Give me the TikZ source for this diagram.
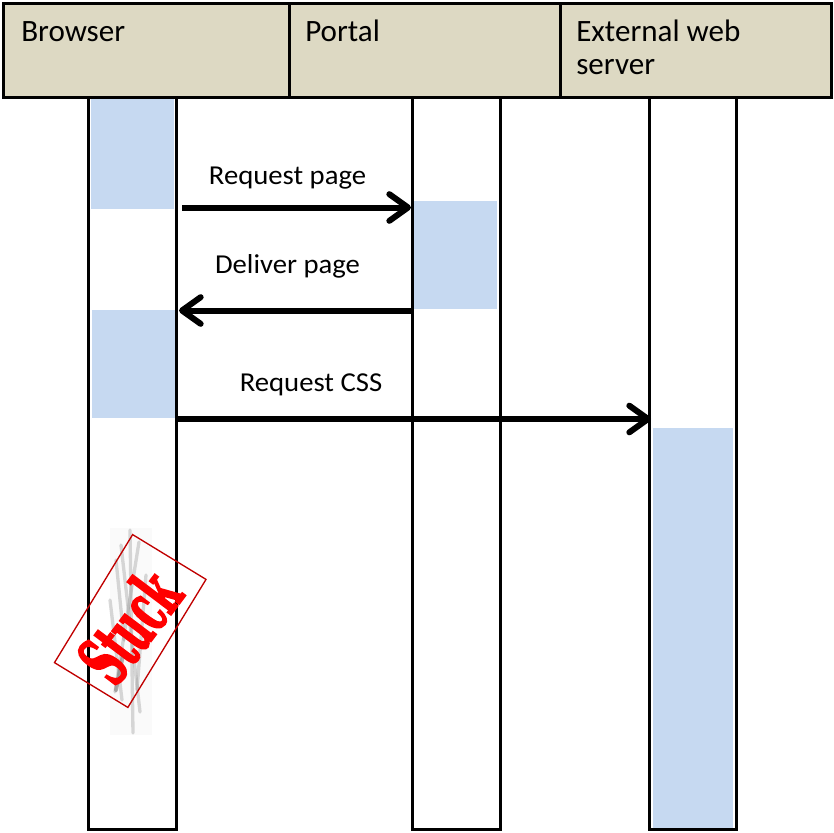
\documentclass[tikz,border=0pt]{standalone}
\usepackage{fontspec}
\setmainfont{Carlito}
\newfontfamily\hdrfont{Carlito}
\newfontfamily\lblfont[FakeStretch=1.05]{Carlito}
\newfontfamily\stuckfont[FakeStretch=0.5,FakeBold=2.2]{DejaVu Serif}
\usetikzlibrary{arrows.meta}
\definecolor{hdrfill}{HTML}{DDD9C3}
\definecolor{actblue}{HTML}{C6D9F1}
\definecolor{stampred}{HTML}{C00000}
\begin{document}
\begin{tikzpicture}[x=0.75pt,y=-0.75pt,
  hdrbox/.style={draw=black,line width=2.25pt,fill=hdrfill},
  lifebox/.style={draw=black,line width=2.25pt},
  actbox/.style={fill=actblue,draw=none},
  msgarrow/.style={line width=4.5pt,-{Straight Barb[length=14pt,width=20pt,round]}},
  msglbl/.style={font=\lblfont\fontsize{20.5}{23}\selectfont,anchor=base,inner sep=0pt},
  hdrlbl/.style={font=\hdrfont\fontsize{23.3}{24.75}\selectfont,anchor=base west,inner sep=0pt,align=left},
  streak/.style={draw=gray,line width=2.5pt,opacity=0.3,line cap=round}]
\useasboundingbox (0,0) rectangle (834,832);

% activation bars
\fill[actbox] (91,98) rectangle (174,209);
\fill[actbox] (413,201) rectangle (497,309);
\fill[actbox] (92,310) rectangle (175,418);
\fill[actbox] (653,428) rectangle (733,829);

% lifelines
\draw[lifebox] (88.5,97) rectangle (176.5,829.5);
\draw[lifebox] (412,97) rectangle (500.5,829.5);
\draw[lifebox] (649.5,97) rectangle (736.5,829.5);

% header
\draw[hdrbox] (3.5,3.5) rectangle (831.5,97);
\draw[line width=2.25pt] (289,3.5) -- (289,97);
\draw[line width=2.25pt] (560,3.5) -- (560,97);
\node[hdrlbl] (hbrowser) at (21,41) {Browser};
\node[hdrlbl] (hportal) at (305,41) {Portal};
\node[hdrlbl] (hexternal) at (576,74) {External web\\server};

% message end points
\coordinate (rpS) at (182,207.5);
\coordinate (rpE) at (411,207.5);
\coordinate (dpS) at (412,310.5);
\coordinate (dpE) at (179,310.5);
\coordinate (rcS) at (178,419);
\coordinate (rcE) at (651,419);

\draw[msgarrow] (rpS) -- (rpE);
\draw[msgarrow] (dpS) -- (dpE);
\draw[msgarrow] (rcS) -- (rcE);

\node[msglbl] (lrp) at (287.5,184) {Request page};
\node[msglbl] (ldp) at (287.5,273) {Deliver page};
\node[msglbl] (lrc) at (311,391.5) {Request CSS};

% stuck stamp
\fill[black!2] (110,528) rectangle (152,735);
\draw[streak] (130,530) -- (133,733);
\draw[streak] (121,545) -- (140,712);
\draw[streak] (139,542) -- (115,692);
\draw[streak] (116,560) -- (124,640);
\draw[streak] (146,575) -- (137,690);
\draw[streak] (110,600) -- (122,700);
\draw[streak,opacity=0.6,line width=3pt] (123,655) -- (116,690);
\node[draw=stampred,line width=1pt,minimum width=112.5pt,minimum height=64.5pt,rotate=58.6,inner sep=0pt] (stamp) at (130.25,621) {};
\node[rotate=53,text=red,font=\stuckfont\bfseries\fontsize{54}{54}\selectfont,inner sep=0pt] (stucktxt) at (129,626) {Stuck};
\end{tikzpicture}
\end{document}
